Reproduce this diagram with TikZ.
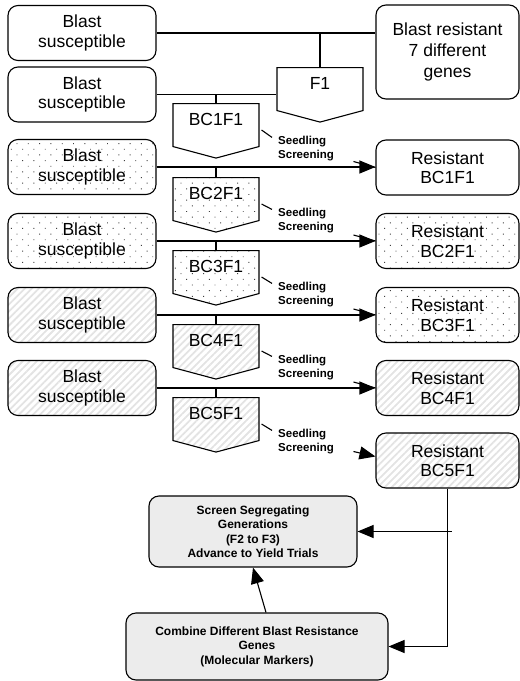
\documentclass[tikz,border=0pt]{standalone}
\usepackage{fontspec}
\setmainfont{Liberation Sans}
\usetikzlibrary{positioning, calc, arrows.meta, shapes.symbols, patterns.meta}

\tikzset{
  plant/.style={draw, line width=1.1pt, rounded corners=10pt, minimum width=148pt,
    minimum height=55pt, inner sep=0pt, align=center, font=\fontsize{17.5}{19.5}\selectfont},
  resist/.style={plant, minimum width=143pt},
  gen/.style={draw, line width=1.1pt, shape=signal, signal to=south, signal pointer angle=150,
    text width=86pt, text height=22pt, text depth=21pt, inner sep=0pt, align=center,
    font=\fontsize{17.5}{19.5}\selectfont},
  screening/.style={inner sep=0pt, align=left, font=\bfseries\fontsize{11.5}{14}\selectfont},
  final/.style={draw, line width=1.1pt, rounded corners=10pt, fill=gray!15, align=center,
    font=\bfseries\fontsize{12}{14.5}\selectfont},
  dotfill/.style={pattern={Dots[distance=8pt, angle=45, radius=0.65pt]}, pattern color=black!75},
  hatchfill/.style={pattern={Lines[angle=45, distance=5pt, line width=1.8pt]}, pattern color=gray!22},
  link/.style={line width=1.1pt},
  >={Triangle[length=16pt, width=13pt]}
}

\begin{document}
\begin{tikzpicture}[x=1pt, y=-1pt]
      \useasboundingbox (0,0) rectangle (520,681);
      % parents
      \node[plant] (sus1) at (82,33) {Blast\\susceptible};
      \node[plant] (sus2) at (82,94.5) {Blast\\susceptible};
      \node[plant, dotfill] (sus3) at (82,167) {Blast\\susceptible};
      \node[plant, dotfill] (sus4) at (82,241) {Blast\\susceptible};
      \node[plant, hatchfill] (sus5) at (82,315) {Blast\\susceptible};
      \node[plant, hatchfill] (sus6) at (82,388) {Blast\\susceptible};
      \node[resist, minimum height=94pt, font=\fontsize{17.5}{21}\selectfont] (donor) at (447.5,52) {Blast resistant\\7 different\\genes};
      % resistant lines
      \node[resist] (res1) at (447.5,167.5) {Resistant\\BC1F1};
      \node[resist, dotfill] (res2) at (447.5,241) {Resistant\\BC2F1};
      \node[resist, dotfill] (res3) at (447.5,315) {Resistant\\BC3F1};
      \node[resist, hatchfill] (res4) at (447.5,388) {Resistant\\BC4F1};
      \node[resist, hatchfill] (res5) at (447.5,460.5) {Resistant\\BC5F1};
      % generations
      \node[gen, anchor=north] (f1) at (320,67) {F1};
      \node[gen, anchor=north] (bc1) at (216,103) {BC1F1};
      \node[gen, anchor=north, dotfill] (bc2) at (216,177) {BC2F1};
      \node[gen, anchor=north, dotfill] (bc3) at (216,250) {BC3F1};
      \node[gen, anchor=north, hatchfill] (bc4) at (216,324) {BC4F1};
      \node[gen, anchor=north, hatchfill] (bc5) at (216,397) {BC5F1};
      % seedling screening
      \node[screening, anchor=west] (scr1) at (278,149) {Seedling\\Screening};
      \node[screening, anchor=west] (scr2) at (278,221) {Seedling\\Screening};
      \node[screening, anchor=west] (scr3) at (278,295) {Seedling\\Screening};
      \node[screening, anchor=west] (scr4) at (278,368) {Seedling\\Screening};
      \node[screening, anchor=west] (scr5) at (278,442) {Seedling\\Screening};
      % final steps
      \node[final, minimum width=208pt, minimum height=71pt] (seg) at (253,531.5) {Screen Segregating\\Generations\\(F2 to F3)\\Advance to Yield Trials};
      \node[final, minimum width=262pt, minimum height=67pt] (comb) at (257,646.5) {Combine Different Blast Resistance\\Genes\\(Molecular Markers)};

      % crosses
      \draw[link] (sus1.east) -- (sus1.east -| donor.west);
      \draw[link] (f1.north) -- (f1.north |- sus1.east);
      \draw[link] (sus2.east) -- (sus2.east -| f1.west);
      \draw[link] (bc1.north) -- (bc1.north |- sus2.east);
      \draw[link, ->] (sus3.east) -- (sus3.east -| res1.west);
      \draw[link] (bc2.north) -- (bc2.north |- sus3.east);
      \draw[link, ->] (sus4.east) -- (sus4.east -| res2.west);
      \draw[link] (bc3.north) -- (bc3.north |- sus4.east);
      \draw[link, ->] (sus5.east) -- (sus5.east -| res3.west);
      \draw[link] (bc4.north) -- (bc4.north |- sus5.east);
      \draw[link, ->] (sus6.east) -- (sus6.east -| res4.west);
      \draw[link] (bc5.north) -- (bc5.north |- sus6.east);

      % screening ticks
      \draw[link] ($(bc1.north -| bc1.east)+(2,27)$) -- ($(scr1.north west)+(-6,1)$);
      \draw[link] ($(bc2.north -| bc2.east)+(2,27)$) -- ($(scr2.north west)+(-6,1)$);
      \draw[link] ($(bc3.north -| bc3.east)+(2,27)$) -- ($(scr3.north west)+(-6,1)$);
      \draw[link] ($(bc4.north -| bc4.east)+(2,27)$) -- ($(scr4.north west)+(-6,1)$);
      \draw[link] ($(bc5.north -| bc5.east)+(2,27)$) -- ($(scr5.north west)+(-6,1)$);
      \draw[link] ($(res1.west)+(-22,-6)$) -- (res1.west);
      \draw[link] ($(res2.west)+(-22,-6)$) -- (res2.west);
      \draw[link] ($(res3.west)+(-22,-6)$) -- (res3.west);
      \draw[link] ($(res4.west)+(-22,-6)$) -- (res4.west);
      \draw[link, ->] ($(res5.west)+(-22,-9)$) -- ($(res5.west)+(0,-4)$);

      % advance
      \coordinate (turn) at (res5.south |- comb.east);
      \draw[link, ->] (res5.south) -- (turn) -- (comb.east);
      \draw[link, ->] ($(res5.south |- seg.east)+(4,0)$) -- (seg.east);
      \draw[link, ->] ($(comb.north)+(9,0)$) -- (seg.south);
\end{tikzpicture}
\end{document}
